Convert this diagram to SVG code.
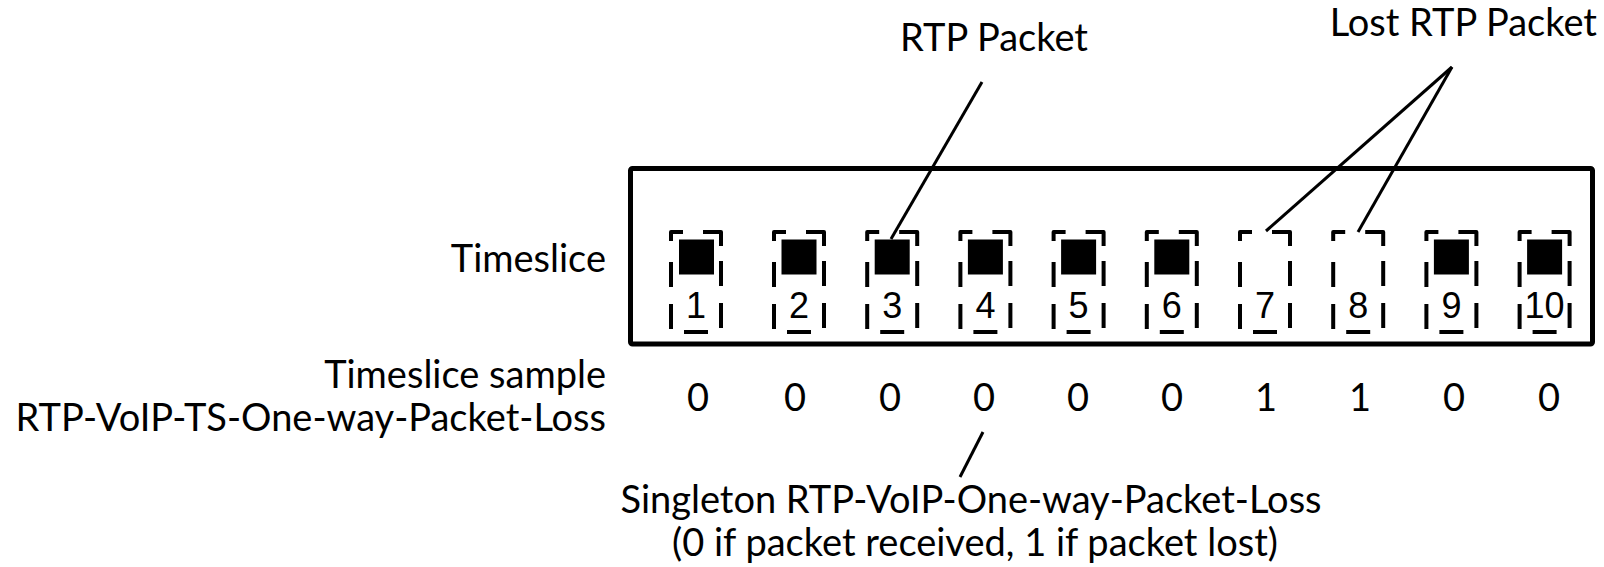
<svg xmlns="http://www.w3.org/2000/svg" xmlns:xlink="http://www.w3.org/1999/xlink" width="1604" height="567" viewBox="0 0 1604 567">
  <style>
    .lbl { font-family: Lato, "Open Sans", "Liberation Sans", sans-serif; font-size: 38px; fill: #000; }
    .num { font-family: "Liberation Sans", Arial, sans-serif; font-size: 36px; fill: #000; text-anchor: middle; }
    .val { font-family: Lato, "Open Sans", "Liberation Sans", sans-serif; font-size: 38px; fill: #000; text-anchor: middle; }
    .frame { fill: none; stroke: #000; stroke-width: 4; stroke-linejoin: round; stroke-linecap: butt; }
    .pkt { fill: #000; }
    .lead { stroke: #000; stroke-width: 3; fill: none; }
  </style>
  <defs>
    <!-- dashed timeslice frame, 50 x 100 -->
    <path id="slotFrame" class="frame" d="M0,9 V0 H12 M32,0 H50 V14 M50,29 V54 M50,71 V96 M37,100 H13 M0,97 V72 M0,55 V30"/>
  </defs>

  <rect width="1604" height="567" fill="#fff"/>

  <!-- measurement window -->
  <g id="window">
    <rect x="630.5" y="168.5" width="962" height="175.5" rx="2" fill="none" stroke="#000" stroke-width="5"/>
  </g>

  <!-- timeslices -->
  <g id="slot-1">
    <use xlink:href="#slotFrame" x="671" y="232"/>
    <rect class="pkt" x="679" y="239.5" width="35" height="35"/>
    <text class="num" x="696" y="318">1</text>
  </g>
  <g id="slot-2">
    <use xlink:href="#slotFrame" x="774" y="232"/>
    <rect class="pkt" x="781.5" y="239.5" width="35" height="35"/>
    <text class="num" x="799" y="318">2</text>
  </g>
  <g id="slot-3">
    <use xlink:href="#slotFrame" x="867.2" y="232"/>
    <rect class="pkt" x="874.7" y="239.5" width="35" height="35"/>
    <text class="num" x="892.2" y="318">3</text>
  </g>
  <g id="slot-4">
    <use xlink:href="#slotFrame" x="960.4" y="232"/>
    <rect class="pkt" x="967.9" y="239.5" width="35" height="35"/>
    <text class="num" x="985.4" y="318">4</text>
  </g>
  <g id="slot-5">
    <use xlink:href="#slotFrame" x="1053.6" y="232"/>
    <rect class="pkt" x="1061.1" y="239.5" width="35" height="35"/>
    <text class="num" x="1078.6" y="318">5</text>
  </g>
  <g id="slot-6">
    <use xlink:href="#slotFrame" x="1146.8" y="232"/>
    <rect class="pkt" x="1154.3" y="239.5" width="35" height="35"/>
    <text class="num" x="1171.8" y="318">6</text>
  </g>
  <g id="slot-7">
    <use xlink:href="#slotFrame" x="1240" y="232"/>
    <text class="num" x="1265" y="318">7</text>
  </g>
  <g id="slot-8">
    <use xlink:href="#slotFrame" x="1333.2" y="232"/>
    <text class="num" x="1358.2" y="318">8</text>
  </g>
  <g id="slot-9">
    <use xlink:href="#slotFrame" x="1426.4" y="232"/>
    <rect class="pkt" x="1433.9" y="239.5" width="35" height="35"/>
    <text class="num" x="1451.4" y="318">9</text>
  </g>
  <g id="slot-10">
    <use xlink:href="#slotFrame" x="1519.6" y="232"/>
    <rect class="pkt" x="1527.1" y="239.5" width="35" height="35"/>
    <text class="num" x="1544.6" y="318">10</text>
  </g>

  <!-- per-slice sample values -->
  <g id="samples">
    <text class="val" x="698" y="411">0</text>
    <text class="val" x="795" y="411">0</text>
    <text class="val" x="890" y="411">0</text>
    <text class="val" x="984" y="411">0</text>
    <text class="val" x="1078" y="411">0</text>
    <text class="val" x="1172" y="411">0</text>
    <text class="val" x="1266" y="411">1</text>
    <text class="val" x="1360" y="411">1</text>
    <text class="val" x="1454" y="411">0</text>
    <text class="val" x="1549" y="411">0</text>
  </g>

  <!-- labels -->
  <g id="label-rtp-packet">
    <text class="lbl" x="994" y="51" text-anchor="middle">RTP Packet</text>
  </g>
  <g id="label-lost-packet">
    <text class="lbl" x="1597" y="36" text-anchor="end">Lost RTP Packet</text>
  </g>
  <g id="label-timeslice">
    <text class="lbl" x="606" y="272" text-anchor="end">Timeslice</text>
  </g>
  <g id="label-ts-sample">
    <text class="lbl" x="606" y="388" text-anchor="end">Timeslice sample</text>
    <text class="lbl" x="606" y="431" text-anchor="end">RTP-VoIP-TS-One-way-Packet-Loss</text>
  </g>
  <g id="label-singleton">
    <text class="lbl" x="971" y="513" text-anchor="middle">Singleton RTP-VoIP-One-way-Packet-Loss</text>
    <text class="lbl" x="975" y="556" text-anchor="middle">(0 if packet received, 1 if packet lost)</text>
  </g>

  <!-- leader lines -->
  <g id="connectors">
    <line class="lead" x1="982" y1="82" x2="891" y2="239"/>
    <line class="lead" x1="1452" y1="67" x2="1266" y2="231"/>
    <line class="lead" x1="1452" y1="67" x2="1358" y2="232"/>
    <line class="lead" x1="983" y1="432" x2="960" y2="477"/>
  </g>
</svg>
